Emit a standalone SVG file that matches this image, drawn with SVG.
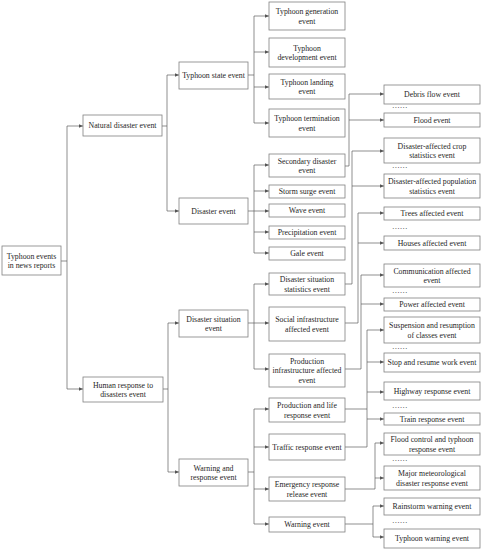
<svg xmlns="http://www.w3.org/2000/svg" width="482" height="550" viewBox="0 0 482 550">
<defs>
<marker id="ah" viewBox="0 0 6 5" markerWidth="4.5" markerHeight="3.6" refX="6" refY="2.5" markerUnits="userSpaceOnUse" orient="auto">
<path d="M0,0 L6,2.5 L0,5 z" fill="#555"/>
</marker>
<style>
rect{fill:#fff;stroke:#808080;stroke-width:0.8}
text{font-family:"Liberation Serif","Times New Roman",serif;font-size:7.8px;fill:#262626;text-anchor:middle}
.dots{text-anchor:start}
#connectors path{fill:none;stroke:#5f5f5f;stroke-width:0.7}
#connectors path.a{marker-end:url(#ah)}
</style>
</defs>
<rect x="0" y="0" width="482" height="550" style="fill:#fff;stroke:none"/>
<g id="connectors">
<path d="M61,261 H67 M67,126 V389"/>
<path class="a" d="M67,126 H83"/><path class="a" d="M67,389 H83"/>
<path d="M162,126 H167 M167,75 V211"/>
<path class="a" d="M167,75 H179"/><path class="a" d="M167,211 H179"/>
<path d="M163,389 H168 M168,323 V472"/>
<path class="a" d="M168,323 H179"/><path class="a" d="M168,472 H179"/>
<path d="M248,75 H254 M254,16 V123"/>
<path class="a" d="M254,16 H269"/><path class="a" d="M254,52 H269"/><path class="a" d="M254,87 H269"/><path class="a" d="M254,123 H269"/>
<path d="M248,211 H254 M254,165 V253"/>
<path class="a" d="M254,165 H269"/><path class="a" d="M254,191 H269"/><path class="a" d="M254,211 H269"/><path class="a" d="M254,232 H269"/><path class="a" d="M254,253 H269"/>
<path d="M248,323 H254 M254,284 V369"/>
<path class="a" d="M254,284 H269"/><path class="a" d="M254,323 H269"/><path class="a" d="M254,369 H269"/>
<path d="M248,472 H254 M254,409 V524"/>
<path class="a" d="M254,409 H269"/><path class="a" d="M254,447 H269"/><path class="a" d="M254,489 H269"/><path class="a" d="M254,524 H269"/>
<path d="M345,166 H349 M349,94 V166"/>
<path class="a" d="M349,94 H384"/><path class="a" d="M349,120 H384"/>
<path d="M345,284 H352 M352,151 V284"/>
<path class="a" d="M352,151 H384"/><path class="a" d="M352,186 H384"/>
<path d="M345,323 H358 M358,213 V323"/>
<path class="a" d="M358,213 H384"/><path class="a" d="M358,243 H384"/>
<path d="M345,369 H361 M361,275 V369"/>
<path class="a" d="M361,275 H384"/><path class="a" d="M361,304 H384"/>
<path d="M345,409 H367 M345,447 H367 M367,330 V447"/>
<path class="a" d="M367,330 H384"/><path class="a" d="M367,362 H384"/><path class="a" d="M367,392 H384"/><path class="a" d="M367,419 H384"/>
<path d="M345,489 H375 M375,443 V489"/>
<path class="a" d="M375,443 H384"/><path class="a" d="M375,478 H384"/>
<path d="M345,524 H373 M373,506 V537"/>
<path class="a" d="M373,506 H384"/><path class="a" d="M373,537 H384"/>
</g>
<g id="root"><rect x="2" y="246" width="59" height="29"/><text x="31.5" y="258.6">Typhoon events</text><text x="31.5" y="268.1">in news reports</text></g>
<g id="natural"><rect x="83" y="115" width="79" height="21"/><text x="122.5" y="128.3">Natural disaster event</text></g>
<g id="human"><rect x="83" y="377" width="80" height="25"/><text x="123" y="387.6">Human response to</text><text x="123" y="397.1">disasters event</text></g>
<g id="typhoon-state"><rect x="179" y="62" width="69" height="27"/><text x="213.5" y="78.3">Typhoon state event</text></g>
<g id="disaster"><rect x="179" y="198" width="69" height="26"/><text x="213.5" y="213.8">Disaster event</text></g>
<g id="disaster-situation"><rect x="179" y="310" width="69" height="27"/><text x="213.5" y="321.6">Disaster situation</text><text x="213.5" y="331.1">event</text></g>
<g id="warning-response"><rect x="179" y="459" width="69" height="27"/><text x="213.5" y="470.6">Warning and</text><text x="213.5" y="480.1">response event</text></g>
<g id="gen"><rect x="269" y="2" width="76" height="28"/><text x="307" y="14.1">Typhoon generation</text><text x="307" y="23.6">event</text></g>
<g id="dev"><rect x="269" y="38" width="76" height="29"/><text x="307" y="50.6">Typhoon</text><text x="307" y="60.1">development event</text></g>
<g id="landing"><rect x="269" y="74" width="76" height="25"/><text x="307" y="84.6">Typhoon landing</text><text x="307" y="94.1">event</text></g>
<g id="termination"><rect x="269" y="109" width="76" height="28"/><text x="307" y="121.1">Typhoon termination</text><text x="307" y="130.6">event</text></g>
<g id="secondary"><rect x="269" y="154" width="76" height="23"/><text x="307" y="163.6">Secondary disaster</text><text x="307" y="173.1">event</text></g>
<g id="storm"><rect x="269" y="185" width="76" height="13"/><text x="307" y="194.3">Storm surge event</text></g>
<g id="wave"><rect x="269" y="204" width="76" height="13"/><text x="307" y="213.3">Wave event</text></g>
<g id="precip"><rect x="269" y="226" width="76" height="13"/><text x="307" y="235.3">Precipitation event</text></g>
<g id="gale"><rect x="269" y="247" width="76" height="13"/><text x="307" y="256.3">Gale event</text></g>
<g id="stats"><rect x="269" y="273" width="76" height="22"/><text x="307" y="282.1">Disaster situation</text><text x="307" y="291.6">statistics event</text></g>
<g id="social"><rect x="269" y="307" width="76" height="34"/><text x="307" y="322.1">Social infrastructure</text><text x="307" y="331.6">affected event</text></g>
<g id="prodinfra"><rect x="269" y="354" width="76" height="33"/><text x="307" y="363.8">Production</text><text x="307" y="373.3">infrastructure affected</text><text x="307" y="382.8">event</text></g>
<g id="prodlife"><rect x="269" y="398" width="76" height="24"/><text x="307" y="408.1">Production and life</text><text x="307" y="417.6">response event</text></g>
<g id="traffic"><rect x="269" y="434" width="76" height="26"/><text x="307" y="449.8">Traffic response event</text></g>
<g id="emergency"><rect x="269" y="477" width="76" height="24"/><text x="307" y="487.1">Emergency response</text><text x="307" y="496.6">release event</text></g>
<g id="warning"><rect x="269" y="517" width="76" height="15"/><text x="307" y="527.3">Warning event</text></g>
<g id="debris"><rect x="384" y="85" width="96" height="19"/><text x="432" y="97.3">Debris flow event</text></g>
<g id="flood"><rect x="384" y="113" width="96" height="14"/><text x="432" y="122.8">Flood event</text></g>
<g id="crop"><rect x="384" y="138" width="96" height="25"/><text x="432" y="148.6">Disaster-affected crop</text><text x="432" y="158.1">statistics event</text></g>
<g id="population"><rect x="384" y="174" width="96" height="24"/><text x="432" y="184.1">Disaster-affected population</text><text x="432" y="193.6">statistics event</text></g>
<g id="trees"><rect x="384" y="207" width="96" height="13"/><text x="432" y="216.3">Trees affected event</text></g>
<g id="houses"><rect x="384" y="236" width="96" height="14"/><text x="432" y="245.8">Houses affected event</text></g>
<g id="communication"><rect x="384" y="264" width="96" height="23"/><text x="432" y="273.6">Communication affected</text><text x="432" y="283.1">event</text></g>
<g id="power"><rect x="384" y="298" width="96" height="13"/><text x="432" y="307.3">Power affected event</text></g>
<g id="suspension"><rect x="384" y="317" width="96" height="26"/><text x="432" y="328.1">Suspension and resumption</text><text x="432" y="337.6">of classes event</text></g>
<g id="stopwork"><rect x="384" y="353" width="96" height="19"/><text x="432" y="365.3">Stop and resume work event</text></g>
<g id="highway"><rect x="384" y="382" width="96" height="18"/><text x="432" y="393.8">Highway response event</text></g>
<g id="train"><rect x="384" y="413" width="96" height="12"/><text x="432" y="421.8">Train response event</text></g>
<g id="floodcontrol"><rect x="384" y="433" width="96" height="22"/><text x="432" y="442.1">Flood control and typhoon</text><text x="432" y="451.6">response event</text></g>
<g id="major"><rect x="384" y="466" width="96" height="24"/><text x="432" y="476.1">Major meteorological</text><text x="432" y="485.6">disaster response event</text></g>
<g id="rainstorm"><rect x="384" y="498" width="96" height="17"/><text x="432" y="509.3">Rainstorm warning event</text></g>
<g id="typhoonwarning"><rect x="384" y="529" width="96" height="19"/><text x="432" y="541.3">Typhoon warning event</text></g>
<g id="ellipses">
<text class="dots" x="392" y="108">……</text>
<text class="dots" x="392" y="168">……</text>
<text class="dots" x="392" y="229">……</text>
<text class="dots" x="392" y="293">……</text>
<text class="dots" x="392" y="349">……</text>
<text class="dots" x="392" y="408">……</text>
<text class="dots" x="392" y="461">……</text>
<text class="dots" x="392" y="523">……</text>
</g>
</svg>
